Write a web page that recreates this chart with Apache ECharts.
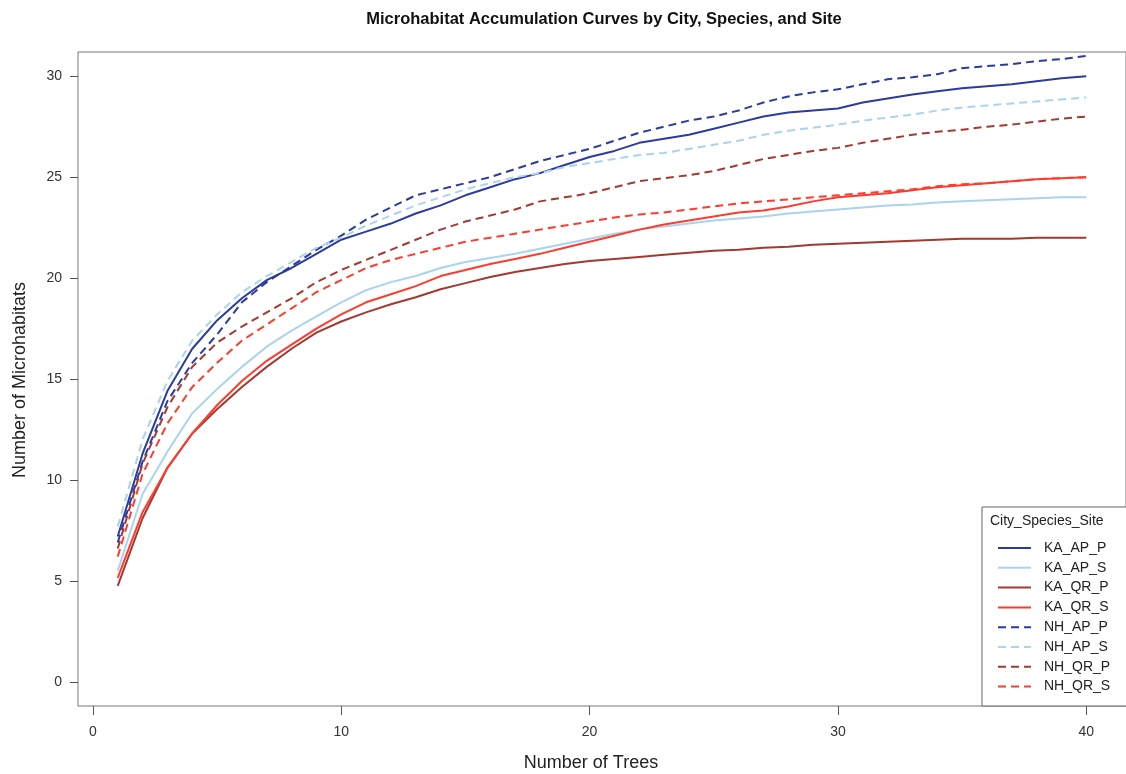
<!DOCTYPE html>
<html>
<head>
<meta charset="utf-8">
<script src="https://cdn.jsdelivr.net/npm/echarts@6/dist/echarts.min.js"></script>
<style>html,body{margin:0;padding:0;background:#fff;}#c{width:1126px;height:774px;}</style>
</head>
<body>
<div id="c"></div>
<script>
var trees = [];
for (var i = 1; i <= 40; i++) trees.push(i);

var xTicks = [0, 10, 20, 30, 40];
var yTicks = [0, 5, 10, 15, 20, 25, 30];

var seriesNames = ['KA_AP_P','KA_AP_S','KA_QR_P','KA_QR_S','NH_AP_P','NH_AP_S','NH_QR_P','NH_QR_S'];

var KA_AP_P = [7.2,11.3,14.4,16.5,17.9,19.0,19.9,20.5,21.2,21.9,22.3,22.7,23.2,23.6,24.1,24.5,24.9,25.2,25.6,26.0,26.3,26.7,26.9,27.1,27.4,27.7,28.0,28.2,28.3,28.4,28.7,28.9,29.1,29.25,29.4,29.5,29.6,29.75,29.9,30.0];
var KA_AP_S = [5.5,9.3,11.4,13.3,14.5,15.6,16.6,17.4,18.1,18.8,19.4,19.8,20.1,20.5,20.8,21.0,21.2,21.45,21.7,21.95,22.2,22.4,22.55,22.7,22.85,22.95,23.05,23.2,23.3,23.4,23.5,23.6,23.65,23.75,23.8,23.85,23.9,23.95,24.0,24.0];
var KA_QR_P = [4.75,8.1,10.6,12.3,13.5,14.6,15.6,16.5,17.3,17.85,18.3,18.7,19.05,19.45,19.75,20.05,20.3,20.5,20.7,20.85,20.95,21.05,21.15,21.25,21.35,21.4,21.5,21.55,21.65,21.7,21.75,21.8,21.85,21.9,21.95,21.95,21.95,22.0,22.0,22.0];
var KA_QR_S = [5.15,8.4,10.6,12.3,13.7,14.9,15.9,16.7,17.5,18.2,18.8,19.2,19.6,20.1,20.4,20.7,20.95,21.2,21.5,21.8,22.1,22.4,22.65,22.85,23.05,23.25,23.35,23.55,23.8,24.0,24.1,24.2,24.35,24.5,24.6,24.7,24.8,24.9,24.95,25.0];
var NH_AP_P = [6.9,10.9,13.9,15.8,17.2,18.8,19.8,20.6,21.4,22.1,22.9,23.5,24.1,24.4,24.7,25.0,25.4,25.8,26.1,26.4,26.8,27.2,27.5,27.8,28.0,28.3,28.7,29.0,29.2,29.35,29.6,29.85,29.95,30.1,30.4,30.5,30.6,30.75,30.85,31.0];
var NH_AP_S = [7.7,12.0,14.9,16.9,18.2,19.3,20.1,20.8,21.5,22.0,22.6,23.1,23.6,24.0,24.4,24.7,25.0,25.2,25.5,25.7,25.9,26.1,26.2,26.4,26.6,26.8,27.1,27.3,27.45,27.6,27.8,27.95,28.1,28.3,28.45,28.55,28.65,28.75,28.85,28.95];
var NH_QR_P = [6.6,10.8,13.6,15.6,16.8,17.6,18.3,19.0,19.8,20.4,20.9,21.4,21.9,22.4,22.8,23.1,23.4,23.8,24.0,24.2,24.5,24.8,24.95,25.1,25.3,25.6,25.9,26.1,26.3,26.45,26.7,26.9,27.1,27.25,27.35,27.5,27.6,27.75,27.9,28.0];
var NH_QR_S = [6.2,10.3,12.8,14.6,15.8,16.9,17.7,18.5,19.3,19.9,20.5,20.9,21.2,21.5,21.8,22.0,22.2,22.4,22.6,22.8,23.0,23.15,23.25,23.4,23.55,23.7,23.8,23.9,24.0,24.1,24.2,24.3,24.4,24.55,24.65,24.7,24.8,24.9,24.95,25.0];

var seriesValues = [KA_AP_P, KA_AP_S, KA_QR_P, KA_QR_S, NH_AP_P, NH_AP_S, NH_QR_P, NH_QR_S];
var colors = ['#2B3B9E','#AAD4EE','#A3392F','#FF3B2E','#2B3B9E','#AAD4EE','#A3392F','#FF3B2E'];
var dashed = [false,false,false,false,true,true,true,true];

var series = seriesNames.map(function (name, k) {
  return {
    name: name,
    type: 'line',
    data: trees.map(function (t, j) { return [t, seriesValues[k][j]]; }),
    symbol: 'none',
    showSymbol: false,
    smooth: false,
    animation: false,
    color: colors[k],
    lineStyle: { color: colors[k], width: 2, type: dashed[k] ? [8, 5] : 'solid' },
    z: 2
  };
});

var chart = echarts.init(document.getElementById('c'), null, { renderer: 'canvas' });
chart.setOption({
  animation: false,
  backgroundColor: '#ffffff',
  color: colors,
  grid: { left: 78, right: -3, top: 52, bottom: 68, show: true, borderColor: '#777', borderWidth: 1, backgroundColor: 'transparent' },
  xAxis: {
    type: 'value', min: -0.6, max: 41.6,
    splitLine: { show: false },
    axisLine: { show: false, onZero: false },
    axisTick: { show: true, customValues: xTicks, length: 9, inside: false, lineStyle: { color: '#555', width: 1 } },
    axisLabel: { customValues: xTicks, margin: 19, fontSize: 14, color: '#333', fontFamily: 'Liberation Sans' }
  },
  yAxis: {
    type: 'value', min: -1.2, max: 31.2,
    splitLine: { show: false },
    axisLine: { show: false, onZero: false },
    axisTick: { show: true, customValues: yTicks, length: 8, inside: false, lineStyle: { color: '#555', width: 1 } },
    axisLabel: { customValues: yTicks, margin: 16, fontSize: 14, color: '#333', fontFamily: 'Liberation Sans' }
  },
  legend: {
    orient: 'vertical',
    left: 992, top: 536,
    itemWidth: 33, itemHeight: 14, itemGap: 5.8,
    data: seriesNames,
    itemStyle: { opacity: 0 },
    textStyle: { fontSize: 14, lineHeight: 14, color: '#222', fontFamily: 'Liberation Sans', padding: [0, 0, 0, 8] },
    z: 10
  },
  graphic: [
    { type: 'rect', z: 5, shape: { x: 982, y: 507, width: 160, height: 199 }, style: { fill: '#fff', stroke: '#666', lineWidth: 1 } },
    { type: 'text', z: 6, left: 990, top: 514, style: { text: 'City_Species_Site', fontSize: 14, fill: '#222', fontFamily: 'Liberation Sans' } },
    { type: 'text', z: 6, x: 604, y: 19, style: { text: 'Microhabitat Accumulation Curves by City, Species, and Site', fontSize: 16.5, fontWeight: 'bold', fill: '#111', fontFamily: 'Liberation Sans', align: 'center', verticalAlign: 'middle' } },
    { type: 'text', z: 6, x: 591, y: 763, style: { text: 'Number of Trees', fontSize: 18, fill: '#222', fontFamily: 'Liberation Sans', align: 'center', verticalAlign: 'middle' } },
    { type: 'text', z: 6, x: 20, y: 380, rotation: Math.PI / 2, style: { text: 'Number of Microhabitats', fontSize: 18, fill: '#222', fontFamily: 'Liberation Sans', align: 'center', verticalAlign: 'middle' } }
  ],
  series: series
});
</script>
</body>
</html>
